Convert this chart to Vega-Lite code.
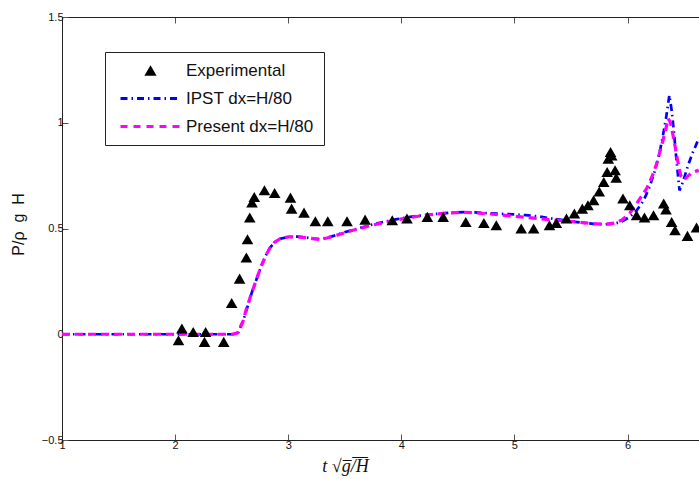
{
  "$schema": "https://vega.github.io/schema/vega-lite/v6.json",
  "width": 637,
  "height": 423,
  "autosize": {"type": "none"},
  "padding": {"left": 62, "top": 17, "right": 0, "bottom": 39},
  "background": "white",
  "config": {
    "view": {"stroke": null},
    "axis": {
      "domainColor": "#222",
      "tickColor": "#555",
      "tickSize": -6,
      "grid": false,
      "labelFont": "Liberation Sans",
      "labelFontSize": 11,
      "labelColor": "#111",
      "titleColor": "#111"
    }
  },
  "data": {
    "values": [
      {"series": "IPST dx=H/80", "x": 1.0, "y": 0},
      {"series": "IPST dx=H/80", "x": 2.52, "y": 0},
      {"series": "IPST dx=H/80", "x": 2.56, "y": 0.01},
      {"series": "IPST dx=H/80", "x": 2.6, "y": 0.06},
      {"series": "IPST dx=H/80", "x": 2.64, "y": 0.13},
      {"series": "IPST dx=H/80", "x": 2.68, "y": 0.2},
      {"series": "IPST dx=H/80", "x": 2.72, "y": 0.26},
      {"series": "IPST dx=H/80", "x": 2.76, "y": 0.32},
      {"series": "IPST dx=H/80", "x": 2.8, "y": 0.37},
      {"series": "IPST dx=H/80", "x": 2.84, "y": 0.41},
      {"series": "IPST dx=H/80", "x": 2.88, "y": 0.435},
      {"series": "IPST dx=H/80", "x": 2.93, "y": 0.452},
      {"series": "IPST dx=H/80", "x": 3.0, "y": 0.46},
      {"series": "IPST dx=H/80", "x": 3.08, "y": 0.462},
      {"series": "IPST dx=H/80", "x": 3.15, "y": 0.458},
      {"series": "IPST dx=H/80", "x": 3.22, "y": 0.452},
      {"series": "IPST dx=H/80", "x": 3.28, "y": 0.45},
      {"series": "IPST dx=H/80", "x": 3.34, "y": 0.455},
      {"series": "IPST dx=H/80", "x": 3.4, "y": 0.465},
      {"series": "IPST dx=H/80", "x": 3.47, "y": 0.478},
      {"series": "IPST dx=H/80", "x": 3.55, "y": 0.49},
      {"series": "IPST dx=H/80", "x": 3.65, "y": 0.505},
      {"series": "IPST dx=H/80", "x": 3.75, "y": 0.52},
      {"series": "IPST dx=H/80", "x": 3.85, "y": 0.532},
      {"series": "IPST dx=H/80", "x": 3.95, "y": 0.543},
      {"series": "IPST dx=H/80", "x": 4.05, "y": 0.553},
      {"series": "IPST dx=H/80", "x": 4.15, "y": 0.56},
      {"series": "IPST dx=H/80", "x": 4.25, "y": 0.566},
      {"series": "IPST dx=H/80", "x": 4.35, "y": 0.571},
      {"series": "IPST dx=H/80", "x": 4.45, "y": 0.575},
      {"series": "IPST dx=H/80", "x": 4.55, "y": 0.577},
      {"series": "IPST dx=H/80", "x": 4.65, "y": 0.576},
      {"series": "IPST dx=H/80", "x": 4.75, "y": 0.573},
      {"series": "IPST dx=H/80", "x": 4.87, "y": 0.57},
      {"series": "IPST dx=H/80", "x": 5.0, "y": 0.567},
      {"series": "IPST dx=H/80", "x": 5.1, "y": 0.563},
      {"series": "IPST dx=H/80", "x": 5.2, "y": 0.558},
      {"series": "IPST dx=H/80", "x": 5.3, "y": 0.55},
      {"series": "IPST dx=H/80", "x": 5.4, "y": 0.542},
      {"series": "IPST dx=H/80", "x": 5.5, "y": 0.534},
      {"series": "IPST dx=H/80", "x": 5.6, "y": 0.527},
      {"series": "IPST dx=H/80", "x": 5.7, "y": 0.522},
      {"series": "IPST dx=H/80", "x": 5.8, "y": 0.52},
      {"series": "IPST dx=H/80", "x": 5.88, "y": 0.522},
      {"series": "IPST dx=H/80", "x": 5.95, "y": 0.533},
      {"series": "IPST dx=H/80", "x": 6.02, "y": 0.555},
      {"series": "IPST dx=H/80", "x": 6.08, "y": 0.585},
      {"series": "IPST dx=H/80", "x": 6.14, "y": 0.63},
      {"series": "IPST dx=H/80", "x": 6.19, "y": 0.69},
      {"series": "IPST dx=H/80", "x": 6.24, "y": 0.77},
      {"series": "IPST dx=H/80", "x": 6.28, "y": 0.85},
      {"series": "IPST dx=H/80", "x": 6.31, "y": 0.93},
      {"series": "IPST dx=H/80", "x": 6.34, "y": 1.02},
      {"series": "IPST dx=H/80", "x": 6.37, "y": 1.13},
      {"series": "IPST dx=H/80", "x": 6.39, "y": 1.06},
      {"series": "IPST dx=H/80", "x": 6.41, "y": 0.96},
      {"series": "IPST dx=H/80", "x": 6.43, "y": 0.84},
      {"series": "IPST dx=H/80", "x": 6.45, "y": 0.73},
      {"series": "IPST dx=H/80", "x": 6.46, "y": 0.68},
      {"series": "IPST dx=H/80", "x": 6.49, "y": 0.72},
      {"series": "IPST dx=H/80", "x": 6.53, "y": 0.79},
      {"series": "IPST dx=H/80", "x": 6.57, "y": 0.85},
      {"series": "IPST dx=H/80", "x": 6.61, "y": 0.9},
      {"series": "IPST dx=H/80", "x": 6.63, "y": 0.93},

      {"series": "Present dx=H/80", "x": 1.0, "y": 0},
      {"series": "Present dx=H/80", "x": 2.5, "y": 0},
      {"series": "Present dx=H/80", "x": 2.55, "y": 0.005},
      {"series": "Present dx=H/80", "x": 2.6, "y": 0.06},
      {"series": "Present dx=H/80", "x": 2.63, "y": 0.12},
      {"series": "Present dx=H/80", "x": 2.68, "y": 0.2},
      {"series": "Present dx=H/80", "x": 2.72, "y": 0.26},
      {"series": "Present dx=H/80", "x": 2.76, "y": 0.32},
      {"series": "Present dx=H/80", "x": 2.8, "y": 0.37},
      {"series": "Present dx=H/80", "x": 2.84, "y": 0.41},
      {"series": "Present dx=H/80", "x": 2.88, "y": 0.435},
      {"series": "Present dx=H/80", "x": 2.93, "y": 0.452},
      {"series": "Present dx=H/80", "x": 3.0, "y": 0.46},
      {"series": "Present dx=H/80", "x": 3.08, "y": 0.46},
      {"series": "Present dx=H/80", "x": 3.15, "y": 0.457},
      {"series": "Present dx=H/80", "x": 3.22, "y": 0.452},
      {"series": "Present dx=H/80", "x": 3.28, "y": 0.448},
      {"series": "Present dx=H/80", "x": 3.34, "y": 0.455},
      {"series": "Present dx=H/80", "x": 3.4, "y": 0.463},
      {"series": "Present dx=H/80", "x": 3.47, "y": 0.475},
      {"series": "Present dx=H/80", "x": 3.55, "y": 0.488},
      {"series": "Present dx=H/80", "x": 3.65, "y": 0.503},
      {"series": "Present dx=H/80", "x": 3.75, "y": 0.517},
      {"series": "Present dx=H/80", "x": 3.85, "y": 0.528},
      {"series": "Present dx=H/80", "x": 3.95, "y": 0.54},
      {"series": "Present dx=H/80", "x": 4.05, "y": 0.55},
      {"series": "Present dx=H/80", "x": 4.15, "y": 0.558},
      {"series": "Present dx=H/80", "x": 4.25, "y": 0.565},
      {"series": "Present dx=H/80", "x": 4.35, "y": 0.57},
      {"series": "Present dx=H/80", "x": 4.45, "y": 0.574},
      {"series": "Present dx=H/80", "x": 4.55, "y": 0.577},
      {"series": "Present dx=H/80", "x": 4.65, "y": 0.575},
      {"series": "Present dx=H/80", "x": 4.75, "y": 0.57},
      {"series": "Present dx=H/80", "x": 4.87, "y": 0.565},
      {"series": "Present dx=H/80", "x": 5.0, "y": 0.558},
      {"series": "Present dx=H/80", "x": 5.1, "y": 0.553},
      {"series": "Present dx=H/80", "x": 5.2, "y": 0.548},
      {"series": "Present dx=H/80", "x": 5.3, "y": 0.542},
      {"series": "Present dx=H/80", "x": 5.4, "y": 0.538},
      {"series": "Present dx=H/80", "x": 5.5, "y": 0.533},
      {"series": "Present dx=H/80", "x": 5.6, "y": 0.528},
      {"series": "Present dx=H/80", "x": 5.7, "y": 0.523},
      {"series": "Present dx=H/80", "x": 5.8, "y": 0.52},
      {"series": "Present dx=H/80", "x": 5.88, "y": 0.525},
      {"series": "Present dx=H/80", "x": 5.95, "y": 0.54},
      {"series": "Present dx=H/80", "x": 6.02, "y": 0.572},
      {"series": "Present dx=H/80", "x": 6.07, "y": 0.61},
      {"series": "Present dx=H/80", "x": 6.12, "y": 0.65},
      {"series": "Present dx=H/80", "x": 6.17, "y": 0.69},
      {"series": "Present dx=H/80", "x": 6.22, "y": 0.75},
      {"series": "Present dx=H/80", "x": 6.26, "y": 0.81},
      {"series": "Present dx=H/80", "x": 6.3, "y": 0.89},
      {"series": "Present dx=H/80", "x": 6.33, "y": 0.95},
      {"series": "Present dx=H/80", "x": 6.36, "y": 1.02},
      {"series": "Present dx=H/80", "x": 6.38, "y": 1.0},
      {"series": "Present dx=H/80", "x": 6.41, "y": 0.92},
      {"series": "Present dx=H/80", "x": 6.44, "y": 0.83},
      {"series": "Present dx=H/80", "x": 6.47, "y": 0.75},
      {"series": "Present dx=H/80", "x": 6.5, "y": 0.73},
      {"series": "Present dx=H/80", "x": 6.53, "y": 0.745},
      {"series": "Present dx=H/80", "x": 6.57, "y": 0.765},
      {"series": "Present dx=H/80", "x": 6.6, "y": 0.77},
      {"series": "Present dx=H/80", "x": 6.63, "y": 0.775},

      {"series": "Experimental", "x": 2.03, "y": -0.028},
      {"series": "Experimental", "x": 2.06, "y": 0.027},
      {"series": "Experimental", "x": 2.16, "y": 0.011},
      {"series": "Experimental", "x": 2.26, "y": -0.036},
      {"series": "Experimental", "x": 2.27, "y": 0.011},
      {"series": "Experimental", "x": 2.43, "y": -0.036},
      {"series": "Experimental", "x": 2.5, "y": 0.148},
      {"series": "Experimental", "x": 2.57, "y": 0.263},
      {"series": "Experimental", "x": 2.63, "y": 0.363},
      {"series": "Experimental", "x": 2.64, "y": 0.449},
      {"series": "Experimental", "x": 2.66, "y": 0.552},
      {"series": "Experimental", "x": 2.68, "y": 0.623},
      {"series": "Experimental", "x": 2.7, "y": 0.649},
      {"series": "Experimental", "x": 2.79, "y": 0.681},
      {"series": "Experimental", "x": 2.88, "y": 0.668},
      {"series": "Experimental", "x": 3.02, "y": 0.646},
      {"series": "Experimental", "x": 3.03, "y": 0.594},
      {"series": "Experimental", "x": 3.14, "y": 0.575},
      {"series": "Experimental", "x": 3.24, "y": 0.534},
      {"series": "Experimental", "x": 3.35, "y": 0.534},
      {"series": "Experimental", "x": 3.52, "y": 0.534},
      {"series": "Experimental", "x": 3.68, "y": 0.542},
      {"series": "Experimental", "x": 3.92, "y": 0.539},
      {"series": "Experimental", "x": 4.05, "y": 0.547},
      {"series": "Experimental", "x": 4.23, "y": 0.555},
      {"series": "Experimental", "x": 4.37, "y": 0.555},
      {"series": "Experimental", "x": 4.57, "y": 0.531},
      {"series": "Experimental", "x": 4.73, "y": 0.526},
      {"series": "Experimental", "x": 4.84, "y": 0.515},
      {"series": "Experimental", "x": 5.06, "y": 0.5},
      {"series": "Experimental", "x": 5.17, "y": 0.5},
      {"series": "Experimental", "x": 5.31, "y": 0.515},
      {"series": "Experimental", "x": 5.37, "y": 0.526},
      {"series": "Experimental", "x": 5.46, "y": 0.547},
      {"series": "Experimental", "x": 5.53, "y": 0.571},
      {"series": "Experimental", "x": 5.6, "y": 0.594},
      {"series": "Experimental", "x": 5.65, "y": 0.61},
      {"series": "Experimental", "x": 5.7, "y": 0.634},
      {"series": "Experimental", "x": 5.75, "y": 0.675},
      {"series": "Experimental", "x": 5.79, "y": 0.72},
      {"series": "Experimental", "x": 5.82, "y": 0.767},
      {"series": "Experimental", "x": 5.83, "y": 0.83},
      {"series": "Experimental", "x": 5.85, "y": 0.862},
      {"series": "Experimental", "x": 5.86, "y": 0.845},
      {"series": "Experimental", "x": 5.89, "y": 0.775},
      {"series": "Experimental", "x": 5.9, "y": 0.74},
      {"series": "Experimental", "x": 5.96, "y": 0.642},
      {"series": "Experimental", "x": 6.02, "y": 0.61},
      {"series": "Experimental", "x": 6.08, "y": 0.563},
      {"series": "Experimental", "x": 6.15, "y": 0.552},
      {"series": "Experimental", "x": 6.23, "y": 0.563},
      {"series": "Experimental", "x": 6.32, "y": 0.618},
      {"series": "Experimental", "x": 6.34, "y": 0.59},
      {"series": "Experimental", "x": 6.39, "y": 0.531},
      {"series": "Experimental", "x": 6.42, "y": 0.492},
      {"series": "Experimental", "x": 6.53, "y": 0.465},
      {"series": "Experimental", "x": 6.61, "y": 0.505}
    ]
  },
  "resolve": {"axis": {"x": "independent"}},
  "layer": [
    {
      "transform": [{"filter": "datum.series === 'IPST dx=H/80'"}],
      "mark": {"type": "line", "strokeWidth": 2.7, "strokeDash": [7, 4, 1.5, 4], "clip": true},
      "encoding": {
        "x": {
          "field": "x", "type": "quantitative",
          "scale": {"domain": [1, 6.632], "nice": false, "zero": false},
          "axis": {
            "orient": "bottom", "values": [1, 2, 3, 4, 5, 6], "format": "d",
            "labelPadding": 5, "labelFlush": false,
            "title": "t √g̅/̅H̅", "titleFont": "Liberation Serif", "titleFontStyle": "italic",
            "titleFontWeight": "normal", "titleFontSize": 18,
            "titleX": 283, "titleY": 17, "titleAnchor": "start", "titleAlign": "center"
          }
        },
        "y": {
          "field": "y", "type": "quantitative",
          "scale": {"domain": [-0.5, 1.5], "nice": false, "zero": false},
          "axis": {
            "values": [-0.5, 0, 0.5, 1, 1.5], "format": "~g", "labelPadding": 5, "labelFlush": false,
            "title": "P/ρ\u00a0 g\u00a0 H", "titleFont": "Liberation Sans", "titleFontWeight": "normal",
            "titleFontSize": 16, "titleX": -36, "titleY": 207, "titleAlign": "center"
          }
        },
        "color": {
          "field": "series", "type": "nominal",
          "scale": {
            "domain": ["Experimental", "IPST dx=H/80", "Present dx=H/80"],
            "range": ["#000000", "#0000ff", "#ff00ff"]
          },
          "legend": {
            "orient": "none", "legendX": 43, "legendY": 35, "title": null,
            "strokeColor": "#222", "fillColor": "white", "padding": 10, "cornerRadius": 0,
            "labelFont": "Liberation Sans", "labelFontSize": 17, "labelColor": "#111",
            "labelLimit": 400, "symbolSize": 144, "symbolOffset": 27, "labelOffset": 27,
            "rowPadding": 10,
            "labelExpr": "datum.label + '      '",
            "encode": {
              "symbols": {
                "update": {
                  "shape": {"signal": "datum.value === 'Experimental' ? 'triangle-up' : 'stroke'"},
                  "size": {"signal": "datum.value === 'Experimental' ? 150 : 3600"},
                  "strokeDash": {"signal": "datum.value === 'IPST dx=H/80' ? [7, 4, 1.5, 4] : (datum.value === 'Experimental' ? [1, 0] : [7, 6])"},
                  "strokeWidth": {"signal": "datum.value === 'Experimental' ? 0 : 3"},
                  "fill": {"signal": "datum.value === 'Experimental' ? 'black' : 'transparent'"},
                  "stroke": {"signal": "datum.value === 'Experimental' ? 'black' : (datum.value === 'IPST dx=H/80' ? '#0000ff' : '#ff00ff')"},
                  "opacity": {"value": 1}
                }
              }
            }
          }
        }
      }
    },
    {
      "transform": [{"filter": "datum.series === 'Present dx=H/80'"}],
      "mark": {"type": "line", "strokeWidth": 3.2, "strokeDash": [8, 5], "clip": true},
      "encoding": {
        "x": {
          "field": "x", "type": "quantitative",
          "axis": {"orient": "top", "values": [1, 2, 3, 4, 5, 6], "labels": false, "title": null}
        },
        "y": {"field": "y", "type": "quantitative"},
        "color": {"field": "series", "type": "nominal"}
      }
    },
    {
      "transform": [{"filter": "datum.series === 'Experimental'"}],
      "mark": {"type": "point", "shape": "triangle-up", "filled": true, "size": 135, "opacity": 1, "clip": true},
      "encoding": {
        "x": {"field": "x", "type": "quantitative", "axis": null},
        "y": {"field": "y", "type": "quantitative"},
        "color": {"field": "series", "type": "nominal"}
      }
    }
  ]
}
